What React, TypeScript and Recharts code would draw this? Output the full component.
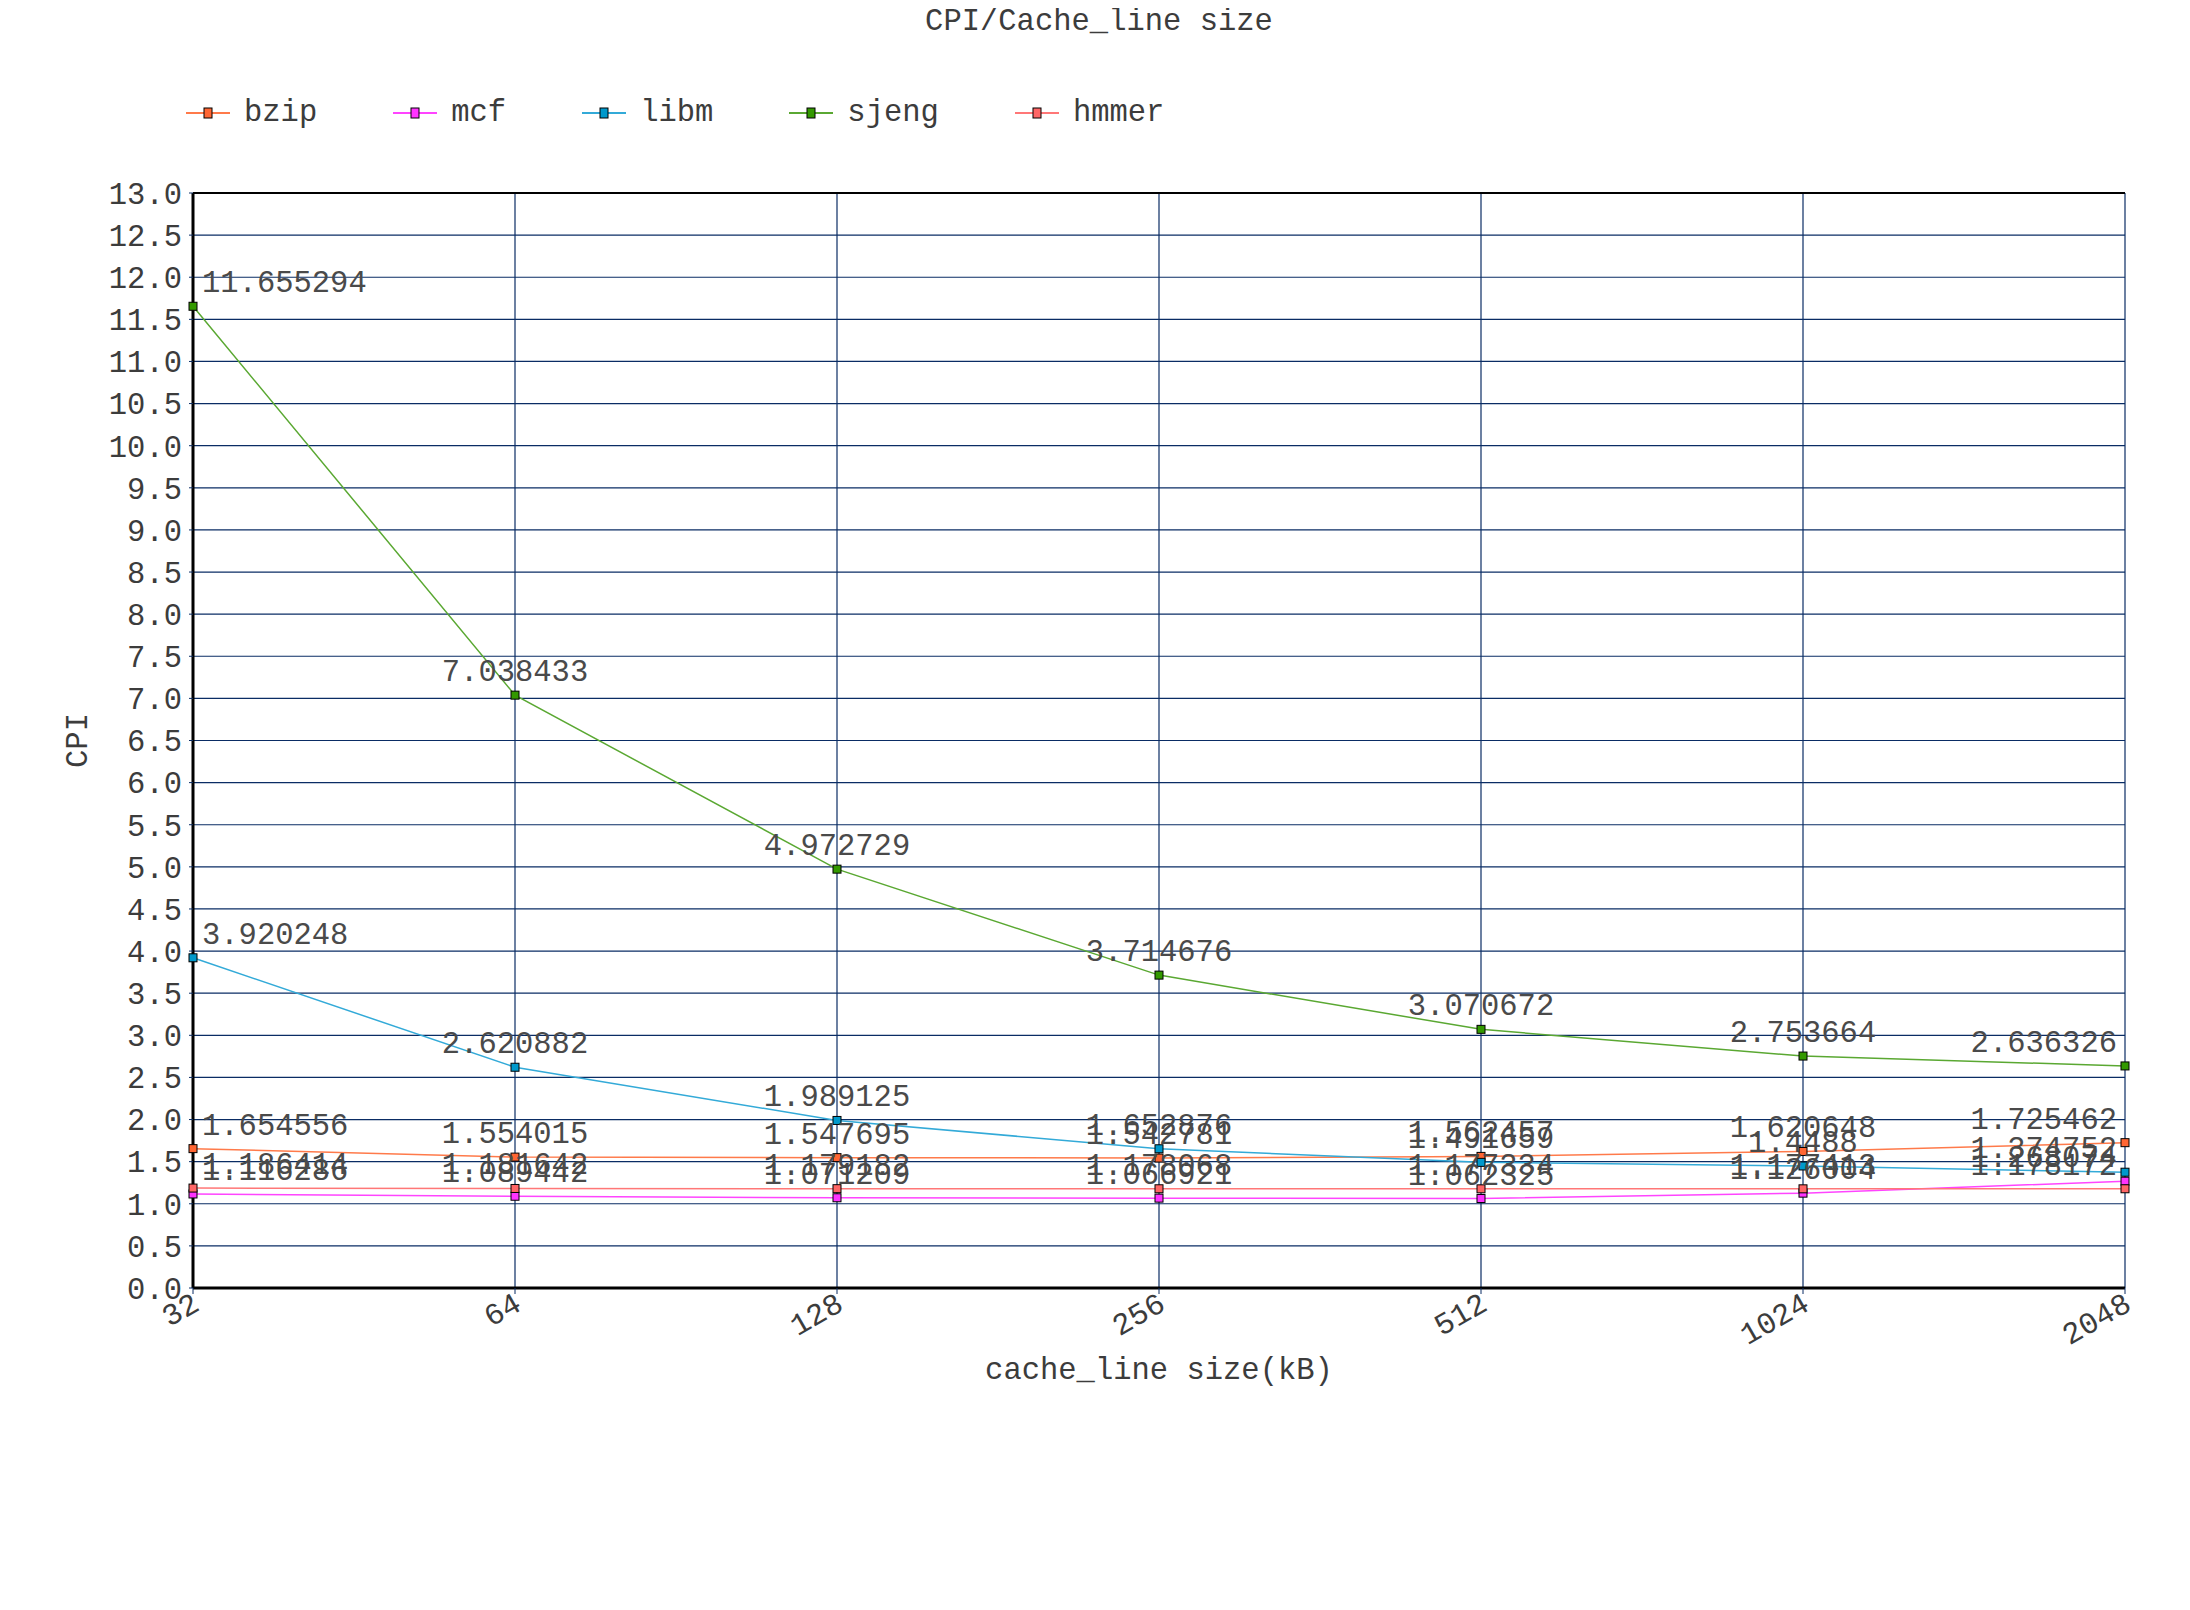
import React from 'react'
import { LineChart, Line, XAxis, YAxis, CartesianGrid, Legend, LabelList, ReferenceLine, Label } from 'recharts'

const categories = ['32', '64', '128', '256', '512', '1024', '2048']
const bzip = [1.654556, 1.554015, 1.547695, 1.542781, 1.562457, 1.620648, 1.725462]
const mcf = [1.116286, 1.089442, 1.071209, 1.066921, 1.062325, 1.126004, 1.268074]
const libm = [3.920248, 2.620882, 1.989125, 1.652876, 1.491659, 1.4488, 1.374752]
const sjeng = [11.655294, 7.038433, 4.972729, 3.714676, 3.070672, 2.753664, 2.636326]
const hmmer = [1.186414, 1.181642, 1.179182, 1.178068, 1.177334, 1.177413, 1.178172]
const yTicks = [0, 0.5, 1, 1.5, 2, 2.5, 3, 3.5, 4, 4.5, 5, 5.5, 6, 6.5, 7, 7.5, 8, 8.5, 9, 9.5, 10, 10.5, 11, 11.5, 12, 12.5, 13]

const SERIES = [
    { key: 'bzip', values: bzip, line: '#ff7a4a', mark: '#ff6633' },
    { key: 'mcf', values: mcf, line: '#ff44ff', mark: '#ff33ff' },
    { key: 'libm', values: libm, line: '#33aad8', mark: '#0099cc' },
    { key: 'sjeng', values: sjeng, line: '#5aa832', mark: '#339900' },
    { key: 'hmmer', values: hmmer, line: '#ff7777', mark: '#ff6666' },
]

const data = categories.map((c, i) => {
    const row: Record<string, string | number> = { size: c }
    SERIES.forEach(s => { row[s.key] = s.values[i] })
    return row
})

const W = 2182
const H = 1594
const PLOT_L = 185
const PLOT_R = 2117
const PLOT_T = 185
const PLOT_B = 1280
const FONT = '"Liberation Mono", "DejaVu Sans Mono", monospace'
const FS = 30.5
const CHAR_W = 18.3
const TEXT = '#3c3c3c'
const GRID = '#0a2c64'

function renderValue(props: any) {
    const { x, y, value } = props
    const txt = String(value)
    const w = txt.length * CHAR_W
    let cx = x
    if (cx - w / 2 < PLOT_L + 9) cx = PLOT_L + 9 + w / 2
    if (cx + w / 2 > PLOT_R - 8) cx = PLOT_R - 8 - w / 2
    return (
        <text x={cx} y={y - 14} textAnchor="middle" fontFamily={FONT} fontSize={FS} fill="#4a4a4a">
            {txt}
        </text>
    )
}

function XTick(props: any) {
    const { x, payload } = props
    const ox = x + 8
    const oy = PLOT_B + 21
    return (
        <text x={ox} y={oy} textAnchor="end" fontFamily={FONT} fontSize={FS} fill={TEXT}
            transform={`rotate(-30, ${ox}, ${oy})`}>
            {payload.value}
        </text>
    )
}

function LegendBox() {
    return (
        <div style={{ display: 'flex', alignItems: 'center', paddingLeft: 178, fontFamily: FONT, fontSize: FS, color: TEXT }}>
            {SERIES.map(s => (
                <div key={s.key} style={{ display: 'flex', alignItems: 'center', marginRight: 76 }}>
                    <svg width={44} height={20}>
                        <line x1={0} y1={10} x2={44} y2={10} stroke={s.line} strokeWidth={2} />
                        <rect x={18} y={5} width={8} height={10} fill={s.mark} stroke="#000" strokeWidth={1} />
                    </svg>
                    <span style={{ marginLeft: 14, lineHeight: '36px' }}>{s.key}</span>
                </div>
            ))}
        </div>
    )
}

export default function App() {
    return (
        <div style={{ position: 'relative', width: W, height: H, background: '#fff' }}>
            <div style={{ position: 'absolute', top: 0, left: 0, width: W, textAlign: 'center', fontFamily: FONT, fontSize: FS, color: TEXT, lineHeight: '28px' }}>
                CPI/Cache_line size
            </div>
            <LineChart width={W} height={H} data={data}
                margin={{ top: PLOT_T, right: W - PLOT_R, left: 105, bottom: H - PLOT_B - 60 }}>
                <CartesianGrid stroke={GRID} strokeWidth={1.2} />
                <XAxis dataKey="size" height={60} tick={<XTick />} tickSize={6}
                    axisLine={{ stroke: '#000', strokeWidth: 3 }} tickLine={{ stroke: GRID }} interval={0}>
                    <Label content={(p: any) => (
                        <text x={p.viewBox.x + p.viewBox.width / 2} y={1371} textAnchor="middle"
                            fontFamily={FONT} fontSize={FS} fill={TEXT}>cache_line size(kB)</text>
                    )} />
                </XAxis>
                <YAxis width={80} domain={[0, 13]} ticks={yTicks} interval={0} tickSize={4} tickMargin={7}
                    tickFormatter={(v: number) => v.toFixed(1)}
                    tick={{ fontFamily: FONT, fontSize: FS, fill: TEXT }}
                    axisLine={{ stroke: '#000', strokeWidth: 3 }} tickLine={{ stroke: GRID }}>
                    <Label content={() => (
                        <text x={69} y={(PLOT_T + PLOT_B) / 2 + 10} textAnchor="middle"
                            transform={`rotate(-90, 69, ${(PLOT_T + PLOT_B) / 2})`}
                            fontFamily={FONT} fontSize={FS} fill={TEXT}>CPI</text>
                    )} />
                </YAxis>
                <ReferenceLine y={13} stroke="#000" strokeWidth={2} />
                <Legend layout="horizontal" verticalAlign="middle" align="center"
                    wrapperStyle={{ top: 87, left: 0, width: W }} content={<LegendBox />} />
                {SERIES.map(s => (
                    <Line key={s.key} type="linear" dataKey={s.key} stroke={s.line} strokeWidth={1.5}
                        isAnimationActive={false}
                        dot={(p: any) => (
                            <rect key={`${s.key}-${p.index}`} x={p.cx - 4} y={p.cy - 4} width={8} height={8}
                                fill={s.mark} stroke="#000" strokeWidth={1} />
                        )}
                        activeDot={false}>
                        <LabelList dataKey={s.key} content={renderValue} />
                    </Line>
                ))}
            </LineChart>
        </div>
    )
}
